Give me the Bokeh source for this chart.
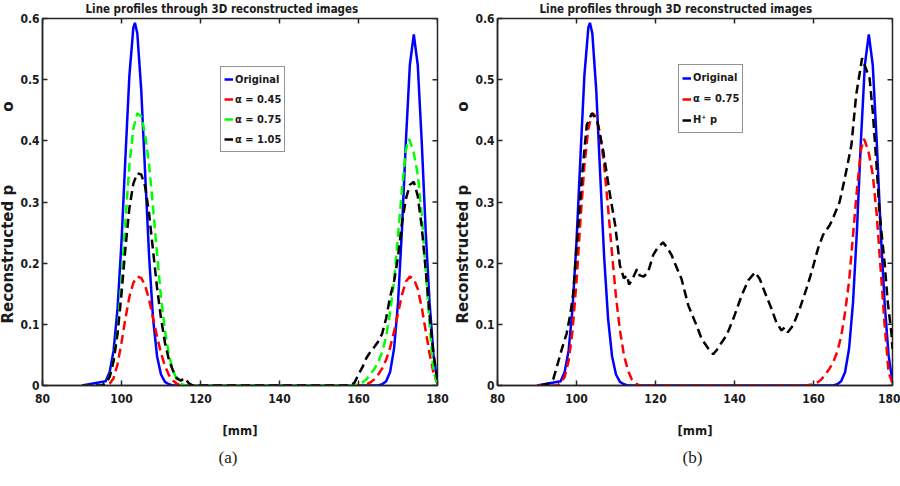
import math
from bokeh.plotting import figure
from bokeh.layouts import row
from bokeh.models import Legend, LegendItem, Title, FixedTicker, Range1d
from bokeh.embed import file_html
from bokeh.resources import INLINE

# ---------------- data ----------------
x_ticks = [80, 100, 120, 140, 160, 180]
y_ticks = [0, 0.1, 0.2, 0.3, 0.4, 0.5, 0.6]

# Original profile
orig_x = [90, 96, 97, 98, 99, 100, 101, 102, 103, 103.4, 104, 105, 106, 107, 108, 109, 110, 111, 112, 113,
          165, 166, 167, 168, 169, 170, 171, 172, 173, 174, 175, 176, 177, 178, 179, 180]
orig_y = [0, 0.007, 0.022, 0.057, 0.126, 0.235, 0.374, 0.507, 0.585, 0.593, 0.576, 0.483, 0.345, 0.21, 0.109, 0.048, 0.018, 0.006, 0.002, 0,
          0, 0.002, 0.007, 0.022, 0.06, 0.135, 0.254, 0.40, 0.524, 0.574, 0.524, 0.40, 0.254, 0.135, 0.05, 0.005]

# alpha = 0.45
a45_x = [90, 96, 97, 98, 99, 100, 101, 102, 103, 104, 105, 106, 107, 108, 109, 110, 111, 112, 113, 114, 115,
         161, 162, 163, 164, 165, 166, 167, 168, 169, 170, 171, 172, 173, 174, 175, 176, 177, 178, 179, 180]
a45_y = [0, 0, 0.003, 0.012, 0.035, 0.07, 0.11, 0.145, 0.168, 0.178, 0.176, 0.163, 0.14, 0.11, 0.08, 0.053, 0.032, 0.017, 0.008, 0.003, 0,
         0, 0.002, 0.005, 0.01, 0.018, 0.028, 0.042, 0.062, 0.088, 0.118, 0.148, 0.17, 0.178, 0.174, 0.158, 0.128, 0.09, 0.052, 0.02, 0.003]

# alpha = 0.75
a75_x = [90, 95, 96, 97, 98, 99, 100, 101, 102, 103, 104, 105, 106, 107, 108, 109, 110, 111, 112, 113, 114, 115, 116,
         158, 160, 161, 162, 163, 164, 165, 166, 167, 168, 169, 170, 171, 172, 172.7, 173, 174, 175, 176, 177, 178, 179, 180]
a75_y = [0, 0, 0.004, 0.014, 0.04, 0.09, 0.17, 0.27, 0.36, 0.42, 0.445, 0.44, 0.41, 0.36, 0.29, 0.215, 0.145, 0.09, 0.05, 0.025, 0.01, 0.003, 0,
         0, 0.002, 0.005, 0.01, 0.018, 0.027, 0.038, 0.055, 0.08, 0.12, 0.17, 0.245, 0.32, 0.385, 0.403, 0.40, 0.38, 0.345, 0.28, 0.19, 0.1, 0.022, 0.003]

# alpha = 1.05
a105_x = [90, 95, 96, 97, 98, 99, 100, 101, 102, 103, 104, 105, 106, 107, 108, 109, 110, 111, 112, 113, 114, 115, 116, 117, 118,
          158, 159, 160, 161, 162, 163, 164, 165, 166, 167, 168, 169, 170, 171, 172, 173, 174, 175, 176, 177, 178, 179, 180]
a105_y = [0, 0, 0.004, 0.014, 0.04, 0.085, 0.15, 0.225, 0.29, 0.33, 0.347, 0.345, 0.325, 0.28, 0.22, 0.16, 0.11, 0.07, 0.042, 0.025, 0.012, 0.008, 0.012, 0.004, 0,
          0, 0.005, 0.018, 0.03, 0.045, 0.055, 0.063, 0.072, 0.085, 0.11, 0.145, 0.17, 0.21, 0.265, 0.305, 0.328, 0.333, 0.31, 0.26, 0.19, 0.115, 0.05, 0.008]

# H+ p
hp_x = [91, 93, 94.1, 95, 96.3, 97.5, 98.4, 99.2, 100.1, 101.4, 102.6, 103.9, 105.2, 106.8, 108.5, 109.8, 111, 112, 112.8,
        113.3, 114, 115.3, 116, 117, 118.1, 119.4, 120.5, 121.9, 123, 124.1, 124.9, 126.6, 128.3, 130.4, 131.7, 133.4,
        134.6, 135.5, 136.7, 138, 139.7, 141.8, 143.5, 145.2, 146.4, 147.7, 149.4, 150.6, 151.9, 152.7, 153.5, 154.8,
        156.5, 158.2, 159.5, 161.1, 162.4, 164.1, 164.9, 166.6, 167.9, 169.6, 170.8, 172.3, 174.2, 175, 175.9, 176.7,
        178, 178.8, 179.7, 180]
hp_y = [0, 0.003, 0.01, 0.03, 0.06, 0.085, 0.115, 0.152, 0.234, 0.344, 0.426, 0.445, 0.434, 0.382, 0.311, 0.262, 0.196, 0.175, 0.18,
        0.165, 0.172, 0.19, 0.18, 0.178, 0.185, 0.213, 0.225, 0.234, 0.225, 0.213, 0.2, 0.174, 0.131, 0.098, 0.076, 0.06,
        0.051, 0.058, 0.07, 0.082, 0.109, 0.147, 0.172, 0.185, 0.174, 0.152, 0.125, 0.103, 0.09, 0.095, 0.087, 0.098,
        0.125, 0.158, 0.185, 0.223, 0.246, 0.262, 0.273, 0.3, 0.338, 0.393, 0.475, 0.535, 0.502, 0.448, 0.366, 0.284,
        0.2, 0.136, 0.087, 0.06]

title_text = "Line profiles through 3D reconstructed images"
y_label = "Reconstructed p" + "\u00a0" * 14 + "o" + "\u00a0" * 4
x_label = "[mm]"

# ---------------- styling ----------------
NARROW = "'Liberation Sans Narrow', 'DejaVu Sans Condensed', 'Roboto Condensed', Lato, sans-serif"
AX = "#262626"
TXT = "#1a1a1a"
DASH = "9 5"
LW = 2.5
FRAME_W = 395
FRAME_H = 367


def make_panel(series, left_border, right_border, legend_loc, label_h, title_offset, caption, caption_offset):
    p = figure(frame_width=FRAME_W, frame_height=FRAME_H, x_range=Range1d(80, 180), y_range=Range1d(0, 0.6),
               output_backend="svg", toolbar_location=None,
               min_border_left=left_border, min_border_right=right_border,
               min_border_top=23, min_border_bottom=85)
    p.background_fill_color = "white"
    p.border_fill_color = "white"
    p.outline_line_color = AX
    p.outline_line_width = 1.5
    p.xgrid.visible = False
    p.ygrid.visible = False

    p.xaxis.ticker = FixedTicker(ticks=x_ticks)
    p.yaxis.ticker = FixedTicker(ticks=y_ticks)
    p.yaxis.major_label_overrides = {0: "0"}
    for ax in p.axis:
        ax.axis_line_color = AX
        ax.axis_line_width = 1.5
        ax.major_tick_line_color = AX
        ax.major_tick_line_width = 1.5
        ax.major_tick_in = 5
        ax.major_tick_out = 0
        ax.minor_tick_line_color = None
        ax.major_label_text_font = NARROW
        ax.major_label_text_font_style = "bold"
        ax.major_label_text_font_size = "12px"
        ax.major_label_text_color = TXT

    # mirrored inward ticks on the top and right edges
    p.ray(x=x_ticks, y=[p.y_range.end] * len(x_ticks), length=5, length_units="screen",
          angle=-math.pi / 2, line_color=AX, line_width=1.5)
    p.ray(x=[p.x_range.end] * len(y_ticks), y=y_ticks, length=5, length_units="screen",
          angle=math.pi, line_color=AX, line_width=1.5)

    xa = p.xaxis[0]
    xa.major_label_standoff = 8
    xa.axis_label = x_label
    xa.axis_label_text_font = NARROW
    xa.axis_label_text_font_style = "bold"
    xa.axis_label_text_font_size = "13px"
    xa.axis_label_standoff = 17
    xa.axis_label_text_color = TXT

    ya = p.yaxis[0]
    ya.major_label_standoff = 3
    ya.axis_label = y_label
    ya.axis_label_text_font = "DejaVu Sans"
    ya.axis_label_text_font_style = "bold"
    ya.axis_label_text_font_size = "15px"
    ya.axis_label_standoff = 0
    ya.axis_label_text_color = TXT

    items = []
    for label, xs, ys, color, dash in series:
        r = p.line(xs, ys, line_color=color, line_width=LW, line_dash=dash)
        items.append(LegendItem(label=label, renderers=[r]))

    legend = Legend(items=items, location=legend_loc, orientation="vertical",
                    border_line_color=AX, border_line_width=1,
                    background_fill_color="white", background_fill_alpha=1,
                    padding=3, spacing=2, margin=0, label_standoff=2,
                    glyph_width=9, glyph_height=14, label_height=label_h,
                    label_text_font=NARROW, label_text_font_style="bold",
                    label_text_font_size="11px", label_text_color=TXT)
    p.add_layout(legend)

    p.add_layout(Title(text=caption, align="left", offset=caption_offset,
                       text_font="Liberation Serif", text_font_style="normal",
                       text_font_size="17px", text_color=TXT, standoff=10), "below")
    p.add_layout(Title(text=title_text, align="left", offset=title_offset,
                       text_font=NARROW, text_font_style="bold",
                       text_font_size="11.5px", text_color=TXT, standoff=5), "above")
    return p


left_series = [
    ("Original", orig_x, orig_y, "#0000ff", "solid"),
    ("\u03b1 = 0.45", a45_x, a45_y, "#ff0000", DASH),
    ("\u03b1 = 0.75", a75_x, a75_y, "#00ff00", DASH),
    ("\u03b1 = 1.05", a105_x, a105_y, "#000000", DASH),
]
right_series = [
    ("Original", orig_x, orig_y, "#0000ff", "solid"),
    ("\u03b1 = 0.75", a75_x, a75_y, "#ff0000", DASH),
    ("H\u207a p", hp_x, hp_y, "#000000", DASH),
]

p1 = make_panel(left_series, 38, 14, (178, 233), 18, 43, "(a)", 176)
p2 = make_panel(right_series, 46, 8, (181, 252), 19, 42, "(b)", 185)

layout = row(p1, p2, spacing=0, margin=(-5, 0, 0, -4))
open("out.html", "w").write(file_html(layout, INLINE))
